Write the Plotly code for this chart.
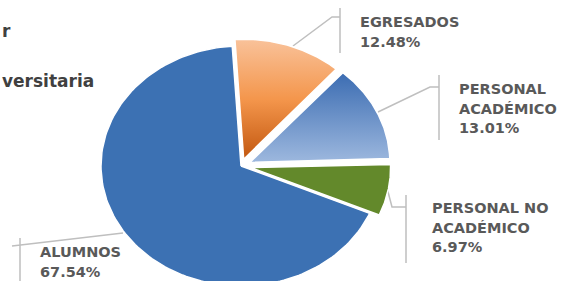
import numpy as np
import plotly.graph_objects as go

# ---- data ----
categories = ["EGRESADOS", "PERSONAL ACADÉMICO", "PERSONAL NO ACADÉMICO", "ALUMNOS"]
values = [12.48, 13.01, 6.97, 67.54]
label_lines = [["EGRESADOS"], ["PERSONAL", "ACADÉMICO"], ["PERSONAL NO", "ACADÉMICO"], ["ALUMNOS"]]
title_fragments = ["r", "versitaria"]

# ---- geometry / style ----
W, H = 563, 281
CX, CY, RX, RY = 241, 166, 140, 120
START_ANGLE = -3.6
pulls = [0.06, 0.07, 0.07, 0.0]
fill_styles = [
    dict(grad=[[0, "#f9c29a"], [0.5, "#f4964c"], [1, "#c2570f"]]),
    dict(grad=[[0, "#3b6cb2"], [1, "#9db8de"]]),
    dict(color="#63892b"),
    dict(color="#3c71b3"),
]
label_pos = [(358, 22), (457, 89), (430, 208), (38, 252)]
LINE_STEP = 19.5
leader_paths = [
    "M293,46 L332,17 L340,17 M340,8 L340,53",
    "M378,112 L430,87 L439,87 M439,75 L439,140",
    "M387,188 L392,207 L406,207 M406,195 L406,263",
    "M123,233 L12,246 M20,238 L20,290",
]
LABEL_FONT = dict(family="DejaVu Sans", size=14.5, color="#595959")
TITLE_FONT = dict(family="DejaVu Sans", size=17, color="#404040")

fig = go.Figure()
total = sum(values)
a0 = START_ANGLE
for i, v in enumerate(values):
    a1 = a0 + v / total * 360.0
    mid = np.radians((a0 + a1) / 2)
    ox = pulls[i] * RX * np.sin(mid)
    oy = -pulls[i] * RY * np.cos(mid)
    th = np.radians(np.linspace(a0, a1, 150))
    xs = np.concatenate([[CX + ox], CX + ox + RX * np.sin(th), [CX + ox]])
    ys = np.concatenate([[CY + oy], CY + oy - RY * np.cos(th), [CY + oy]])
    st = fill_styles[i]
    kw = dict(x=xs, y=ys, mode="lines", fill="toself",
              line=dict(color="white", width=1.5), hoverinfo="skip",
              name=categories[i])
    if "grad" in st:
        kw["fillgradient"] = dict(type="vertical", colorscale=st["grad"],
                                  start=float(ys.min()), stop=float(ys.max()))
    else:
        kw["fillcolor"] = st["color"]
    fig.add_trace(go.Scatter(**kw))
    a0 = a1

annotations = []
for i, v in enumerate(values):
    x0, y0 = label_pos[i]
    lines = label_lines[i] + [f"{v:.2f}%"]
    for j, t in enumerate(lines):
        annotations.append(dict(x=x0, y=y0 + j * LINE_STEP, xref="x", yref="y",
                                text=f"<b>{t}</b>", showarrow=False,
                                xanchor="left", yanchor="middle", font=LABEL_FONT))

annotations.append(dict(x=0, y=31, xref="x", yref="y", text=f"<b>{title_fragments[0]}</b>",
                        showarrow=False, xanchor="left", yanchor="middle", font=TITLE_FONT))
annotations.append(dict(x=0, y=81, xref="x", yref="y", text=f"<b>{title_fragments[1]}</b>",
                        showarrow=False, xanchor="left", yanchor="middle", font=TITLE_FONT))

shapes = [dict(type="path", path=p, xref="x", yref="y",
               line=dict(color="#bfbfbf", width=1.5), layer="below") for p in leader_paths]

fig.update_layout(
    width=W, height=H, margin=dict(l=0, r=0, t=0, b=0),
    paper_bgcolor="white", plot_bgcolor="white", showlegend=False,
    xaxis=dict(range=[0, W], visible=False, fixedrange=True),
    yaxis=dict(range=[H, 0], visible=False, fixedrange=True),
    annotations=annotations, shapes=shapes,
)
fig.write_html("out.html", config={"displayModeBar": False},
               post_script="document.body.style.margin='0';document.body.style.overflow='hidden';")
